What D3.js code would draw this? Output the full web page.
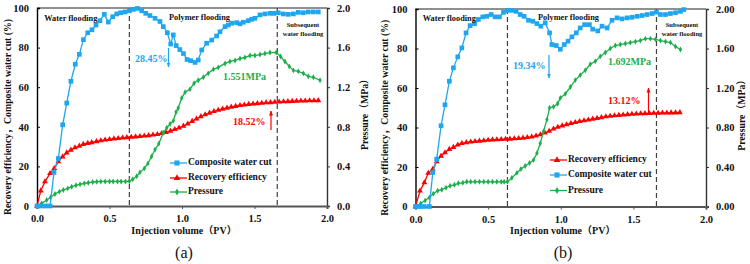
<!DOCTYPE html>
<html><head><meta charset="utf-8">
<script src="https://cdn.jsdelivr.net/npm/d3@7/dist/d3.min.js"></script>
<style>
body{margin:0;background:#fff}
svg{display:block}
text{font-family:"Liberation Serif","Times New Roman","Noto Sans CJK SC",serif;font-weight:bold}
</style>
</head><body><svg id="c" width="750" height="264"></svg>
<script>
// ---------- shared axis ticks ----------
const xTicks = [0, 0.5, 1.0, 1.5, 2.0];
const xTickLabels = ["0.0", "0.5", "1.0", "1.5", "2.0"];
const leftTicks = [0, 20, 40, 60, 80, 100];
const rightTicks = [0, 0.4, 0.8, 1.2, 1.6, 2.0];
const rightTickLabelsA = ["0.0", "0.4", "0.8", "1.2", "1.6", "2.0"];
const rightTickLabelsB = ["0.00", "0.40", "0.80", "1.20", "1.60", "2.00"];
const stageBoundsA = [0.637, 1.657];
const stageBoundsB = [0.633, 1.659];

// ---------- panel (a) ----------
const pvWaterCutA = [0,0.03,0.06,0.09,0.117,0.147,0.177,0.205,0.234,0.264,0.292,0.32,0.35,0.379,0.407,0.434,0.464,0.492,0.522,0.55,0.577,0.607,0.637,0.664,0.692,0.722,0.75,0.779,0.814,0.848,0.871,0.899,0.922,0.94,0.96,0.985,1.01,1.035,1.06,1.09,1.112,1.136,1.17,1.205,1.239,1.262,1.297,1.319,1.343,1.377,1.4,1.423,1.457,1.481,1.503,1.538,1.572,1.607,1.634,1.664,1.699,1.733,1.768,1.802,1.837,1.871,1.906,1.94];
const waterCutA = [0,0,0,0,17,24,41,52,63,71.6,76.6,84,87.5,89,91.4,93.6,96.8,92.9,95.6,97,97.6,98,98.6,99.3,99.8,98.6,97.3,96.2,94.8,93.2,90.6,87.5,81.8,86.4,81,79,77,74,73.4,72.5,73.7,78.8,82.2,83.8,85.9,88,90.6,91.4,92.3,92.6,92,92.8,93.6,94.3,94.8,96.5,97,97.3,97.3,97.6,97,96.8,97,97.8,97.6,98,98,98];

const pvRecoveryA = [0,0.026,0.055,0.09,0.119,0.147,0.177,0.205,0.234,0.262,0.292,0.319,0.35,0.377,0.41,0.44,0.47,0.5,0.53,0.56,0.59,0.62,0.65,0.68,0.71,0.74,0.77,0.8,0.83,0.86,0.89,0.92,0.95,0.98,1.01,1.04,1.07,1.1,1.13,1.16,1.19,1.22,1.25,1.28,1.31,1.34,1.37,1.4,1.43,1.46,1.49,1.52,1.55,1.58,1.61,1.64,1.67,1.7,1.73,1.76,1.79,1.82,1.85,1.88,1.91,1.94];
const recoveryA = [0,7.7,12.3,16.5,19,22.4,24.9,26.9,28.3,29.5,30.3,31.2,31.7,32.1,32.6,33,33.4,33.7,34,34.2,34.4,34.6,34.8,35,35.2,35.4,35.6,35.9,36.2,36.7,37.2,37.9,38.7,39.5,40.4,41.5,42.8,44,45.2,46.2,47,47.8,48.4,49,49.5,50,50.4,50.8,51.1,51.4,51.6,51.8,52,52.2,52.3,52.5,52.6,52.7,52.8,52.9,53,53.1,53.1,53.2,53.2,53.3];

const pvPressureA = [0,0.032,0.067,0.094,0.124,0.154,0.181,0.212,0.239,0.269,0.297,0.326,0.354,0.384,0.412,0.44,0.47,0.5,0.525,0.555,0.58,0.61,0.637,0.66,0.688,0.71,0.74,0.765,0.79,0.814,0.84,0.871,0.895,0.918,0.94,0.959,0.974,0.998,1.021,1.055,1.083,1.112,1.147,1.181,1.216,1.25,1.297,1.331,1.366,1.4,1.434,1.469,1.503,1.538,1.572,1.607,1.65,1.68,1.71,1.74,1.768,1.802,1.837,1.871,1.906,1.952];
const pressureA = [0,0.027,0.061,0.088,0.121,0.145,0.162,0.178,0.195,0.209,0.219,0.229,0.235,0.242,0.245,0.248,0.248,0.248,0.248,0.248,0.248,0.248,0.25,0.27,0.30,0.34,0.38,0.43,0.50,0.57,0.63,0.74,0.79,0.83,0.86,0.95,0.99,1.09,1.15,1.18,1.24,1.27,1.30,1.34,1.38,1.40,1.44,1.46,1.47,1.49,1.50,1.52,1.52,1.53,1.54,1.55,1.551,1.51,1.46,1.41,1.37,1.36,1.34,1.31,1.30,1.27];

// ---------- panel (b) ----------
const pvWaterCutB = [0,0.03,0.06,0.095,0.119,0.146,0.176,0.203,0.233,0.261,0.291,0.319,0.348,0.376,0.406,0.433,0.463,0.491,0.521,0.548,0.578,0.606,0.633,0.663,0.693,0.721,0.748,0.778,0.808,0.836,0.863,0.893,0.923,0.939,0.969,0.997,1.024,1.05,1.077,1.107,1.134,1.164,1.197,1.22,1.255,1.284,1.319,1.353,1.388,1.422,1.457,1.491,1.526,1.56,1.594,1.629,1.659,1.686,1.721,1.755,1.79,1.824,1.847];
const waterCutB = [0,0,0,0,17.2,24,40.9,51.5,63.4,70.2,75.8,80.3,87.9,91.6,92.6,94.7,96,96.3,97.2,96,96,98.3,99.3,99.3,98.8,97.2,96.3,94.3,93.8,92.6,91.3,93,87.9,82,81.5,79.6,82,83.7,85.9,87.9,90.4,92.1,92.1,89.8,88.9,91.3,90.4,94.3,95.5,95,95.5,95.8,96.3,96.7,97.2,97.7,98.4,97.2,97.2,97.7,98.1,98.8,99.7];

const pvRecoveryB = [0,0.031,0.061,0.088,0.119,0.146,0.176,0.203,0.233,0.261,0.291,0.319,0.35,0.38,0.41,0.44,0.47,0.5,0.53,0.56,0.59,0.62,0.65,0.68,0.71,0.74,0.77,0.8,0.83,0.86,0.89,0.92,0.95,0.98,1.01,1.04,1.07,1.1,1.13,1.16,1.19,1.22,1.25,1.28,1.31,1.34,1.37,1.4,1.43,1.46,1.49,1.52,1.55,1.58,1.61,1.64,1.67,1.7,1.73,1.76,1.79,1.82];
const recoveryB = [0,7.9,12.1,16.9,18.9,22.7,25.6,27.3,29,30,31.2,32,32.4,32.7,33,33.2,33.4,33.6,33.8,33.9,34,34.1,34.2,34.4,34.5,34.7,35,35.3,35.8,36.4,37.3,38.2,39.3,40.2,40.9,41.5,42.1,42.6,43.1,43.5,43.9,44.3,44.7,45.1,45.5,45.8,46,46.2,46.4,46.6,46.8,46.9,47,47.1,47.2,47.3,47.3,47.4,47.4,47.5,47.5,47.6];

const pvPressureB = [0,0.036,0.066,0.095,0.123,0.153,0.181,0.21,0.238,0.268,0.295,0.326,0.353,0.38,0.41,0.44,0.47,0.5,0.53,0.56,0.59,0.61,0.633,0.663,0.698,0.726,0.755,0.785,0.812,0.836,0.859,0.881,0.905,0.923,0.95,0.978,0.997,1.031,1.066,1.1,1.134,1.169,1.203,1.238,1.272,1.307,1.341,1.376,1.41,1.445,1.479,1.514,1.548,1.583,1.617,1.652,1.686,1.721,1.755,1.79,1.824];
const pressureB = [0,0.03,0.06,0.09,0.13,0.16,0.17,0.19,0.21,0.22,0.235,0.24,0.25,0.25,0.25,0.25,0.25,0.25,0.25,0.25,0.25,0.25,0.25,0.29,0.34,0.38,0.41,0.44,0.47,0.54,0.64,0.76,0.88,1.0,1.01,1.04,1.10,1.14,1.21,1.28,1.33,1.38,1.44,1.47,1.52,1.56,1.60,1.63,1.64,1.65,1.66,1.67,1.68,1.70,1.70,1.692,1.68,1.67,1.66,1.62,1.59];

const BLUE = "#1EA7EE", RED = "#FF0000", GREEN = "#1BAF4A";

const svg = d3.select("#c");
const defs = svg.append("defs");
[["arB", BLUE], ["arR", RED]].forEach(([id, c]) => {
  defs.append("marker").attr("id", id).attr("viewBox", "0 0 10 10")
    .attr("refX", 9).attr("refY", 5).attr("markerWidth", 5).attr("markerHeight", 6)
    .attr("orient", "auto").attr("markerUnits", "userSpaceOnUse")
    .append("path").attr("d", "M0,1 L10,5 L0,9 Z").attr("fill", c);
});

const SERIF = '"Liberation Serif","Times New Roman",serif';

function drawPanel(cfg) {
  const g = svg.append("g");
  const x = d3.scaleLinear().domain([0, 2]).range([cfg.x0, cfg.x1]);
  const yL = d3.scaleLinear().domain([0, 100]).range([cfg.y1, cfg.y0]);
  const yR = d3.scaleLinear().domain([0, 2]).range([cfg.y1, cfg.y0]);

  // frame (top)
  g.append("line").attr("x1", cfg.x0).attr("x2", cfg.x1).attr("y1", cfg.y0).attr("y2", cfg.y0)
    .attr("stroke", "#222").attr("stroke-width", 1.2);

  // left axis
  const la = g.append("g").attr("transform", `translate(${cfg.x0},0)`).attr("font-family", SERIF)
    .call(d3.axisLeft(yL).tickValues(leftTicks).tickSize(-3).tickPadding(8).tickFormat(d3.format("d")));
  la.select(".domain").attr("stroke", "#000").attr("stroke-width", 1.4);
  la.selectAll(".tick line").attr("stroke", "#000");
  la.selectAll(".tick text").attr("font-size", 10.5).attr("fill", "#111")
    .style("font-family", SERIF).style("font-weight", "bold");

  // right axis
  const ra = g.append("g").attr("transform", `translate(${cfg.x1},0)`).attr("font-family", SERIF)
    .call(d3.axisRight(yR).tickValues(rightTicks).tickSize(3).tickPadding(7)
      .tickFormat((d, i) => cfg.rightLabels[i]));
  ra.select(".domain").attr("stroke", "#333").attr("stroke-width", 1.4);
  ra.selectAll(".tick line").attr("stroke", "#333");
  ra.selectAll(".tick text").attr("font-size", 10.5).attr("fill", "#111")
    .style("font-family", SERIF).style("font-weight", "bold");

  // bottom axis
  const ba = g.append("g").attr("transform", `translate(0,${cfg.y1})`).attr("font-family", SERIF)
    .call(d3.axisBottom(x).tickValues(xTicks).tickSize(3).tickPadding(6)
      .tickFormat((d, i) => xTickLabels[i]));
  ba.select(".domain").attr("stroke", "#555").attr("stroke-width", 2);
  ba.selectAll(".tick line").attr("stroke", "#555");
  ba.selectAll(".tick text").attr("font-size", 10.5).attr("fill", "#111")
    .style("font-family", SERIF).style("font-weight", "bold");

  // stage boundaries
  cfg.bounds.forEach(b => {
    g.append("line").attr("x1", x(b)).attr("x2", x(b)).attr("y1", cfg.y0).attr("y2", cfg.y1)
      .attr("stroke", "#404040").attr("stroke-width", 1.2).attr("stroke-dasharray", "5,3");
  });

  const series = cfg.series;
  series.forEach(s => {
    const pts = s.xs.map((v, i) => [x(v), s.axis === "R" ? yR(s.ys[i]) : yL(s.ys[i])]);
    g.append("path").attr("d", d3.line()(pts)).attr("fill", "none")
      .attr("stroke", s.color).attr("stroke-width", 1.3);
    const sym = d3.symbol().type(s.sym).size(s.size);
    g.selectAll(null).data(pts).enter().append("path")
      .attr("d", sym).attr("transform", d => `translate(${d[0]},${d[1]})`)
      .attr("fill", s.color);
  });

  // axis titles
  const cy = (cfg.y0 + cfg.y1) / 2;
  g.append("text").attr("transform", `translate(${cfg.lTitleX},${cy + 10}) rotate(-90)`)
    .attr("text-anchor", "middle").attr("dominant-baseline", "middle")
    .attr("font-size", 9.8).attr("fill", "#111")
    .text("Recovery efficiency，Composite water cut (%)");
  g.append("text").attr("transform", `translate(${cfg.rTitleX},${cy + 5}) rotate(-90)`)
    .attr("text-anchor", "middle").attr("dominant-baseline", "middle")
    .attr("font-size", 9.8).attr("fill", "#111")
    .text("Pressure（MPa）");
  g.append("text").attr("x", (cfg.x0 + cfg.x1) / 2 + 2).attr("y", 234)
    .attr("text-anchor", "middle").attr("font-size", 10).attr("fill", "#111")
    .text("Injection volume（PV）");
  g.append("text").attr("x", cfg.labelX).attr("y", 258)
    .attr("text-anchor", "middle").attr("font-size", 16).attr("fill", "#111")
    .style("font-weight", "normal").text(cfg.label);

  // stage labels
  g.append("text").attr("x", x(0.05)).attr("y", 21).attr("font-size", 8.3).attr("fill", "#111")
    .text("Water flooding");
  g.append("text").attr("x", cfg.polyX).attr("y", 20).attr("font-size", 8.3).attr("fill", "#111")
    .text("Polymer flooding");
  g.append("text").attr("x", cfg.subX).attr("y", 27).attr("text-anchor", "middle")
    .attr("font-size", 6.6).attr("fill", "#111").text("Subsequent");
  g.append("text").attr("x", cfg.subX).attr("y", 36).attr("text-anchor", "middle")
    .attr("font-size", 6.6).attr("fill", "#111").text("water flooding");

  // annotations
  cfg.notes.forEach(n => {
    g.append("text").attr("x", n.x).attr("y", n.y).attr("font-size", 10)
      .attr("fill", n.color).text(n.text);
  });
  cfg.arrows.forEach(a => {
    g.append("line").attr("x1", a.x).attr("x2", a.x).attr("y1", a.ya).attr("y2", a.yb)
      .attr("stroke", a.color).attr("stroke-width", 1.2).attr("marker-end", `url(#${a.m})`);
  });

  // legend
  cfg.legend.forEach((it, i) => {
    const s = series.find(d => d.name === it);
    const ly = cfg.legY[i];
    g.append("line").attr("x1", cfg.legX).attr("x2", cfg.legX + 17).attr("y1", ly).attr("y2", ly)
      .attr("stroke", s.color).attr("stroke-width", 1.3);
    g.append("path").attr("d", d3.symbol().type(s.sym).size(s.size + 4))
      .attr("transform", `translate(${cfg.legX + 7},${ly})`).attr("fill", s.color);
    g.append("text").attr("x", cfg.legX + 18).attr("y", ly).attr("dominant-baseline", "middle")
      .attr("font-size", 9.5).attr("fill", "#111").text(it);
  });
}

drawPanel({
  x0: 37, x1: 327, y0: 8, y1: 206, bounds: stageBoundsA, rightLabels: rightTickLabelsA,
  lTitleX: 9, rTitleX: 366, labelX: 184, label: "(a)", polyX: 169, subX: 303,
  series: [
    {name: "Recovery efficiency", xs: pvRecoveryA, ys: recoveryA, axis: "L", color: RED, sym: d3.symbolTriangle, size: 15},
    {name: "Pressure", xs: pvPressureA, ys: pressureA, axis: "R", color: GREEN, sym: d3.symbolDiamond, size: 10},
    {name: "Composite water cut", xs: pvWaterCutA, ys: waterCutA, axis: "L", color: BLUE, sym: d3.symbolSquare, size: 22}
  ],
  notes: [
    {x: 135, y: 62, text: "28.45%", color: BLUE},
    {x: 223, y: 80, text: "1.551MPa", color: GREEN},
    {x: 233, y: 125, text: "18.52%", color: RED}
  ],
  arrows: [
    {x: 168.5, ya: 48, yb: 67, color: BLUE, m: "arB"},
    {x: 271, ya: 130, yb: 111, color: RED, m: "arR"}
  ],
  legend: ["Composite water cut", "Recovery efficiency", "Pressure"],
  legX: 170, legY: [163, 178, 192]
});

drawPanel({
  x0: 415.5, x1: 706, y0: 9, y1: 206.5, bounds: stageBoundsB, rightLabels: rightTickLabelsB,
  lTitleX: 386, rTitleX: 743, labelX: 563, label: "(b)", polyX: 538, subX: 682,
  series: [
    {name: "Recovery efficiency", xs: pvRecoveryB, ys: recoveryB, axis: "L", color: RED, sym: d3.symbolTriangle, size: 15},
    {name: "Pressure", xs: pvPressureB, ys: pressureB, axis: "R", color: GREEN, sym: d3.symbolDiamond, size: 10},
    {name: "Composite water cut", xs: pvWaterCutB, ys: waterCutB, axis: "L", color: BLUE, sym: d3.symbolSquare, size: 22}
  ],
  notes: [
    {x: 513, y: 69, text: "19.34%", color: BLUE},
    {x: 608, y: 65, text: "1.692MPa", color: GREEN},
    {x: 608, y: 104, text: "13.12%", color: RED}
  ],
  arrows: [
    {x: 549, ya: 55, yb: 78, color: BLUE, m: "arB"},
    {x: 648.5, ya: 114, yb: 88, color: RED, m: "arR"}
  ],
  legend: ["Recovery efficiency", "Composite water cut", "Pressure"],
  legX: 550, legY: [160, 175, 190.5]
});
</script>
</body></html>
